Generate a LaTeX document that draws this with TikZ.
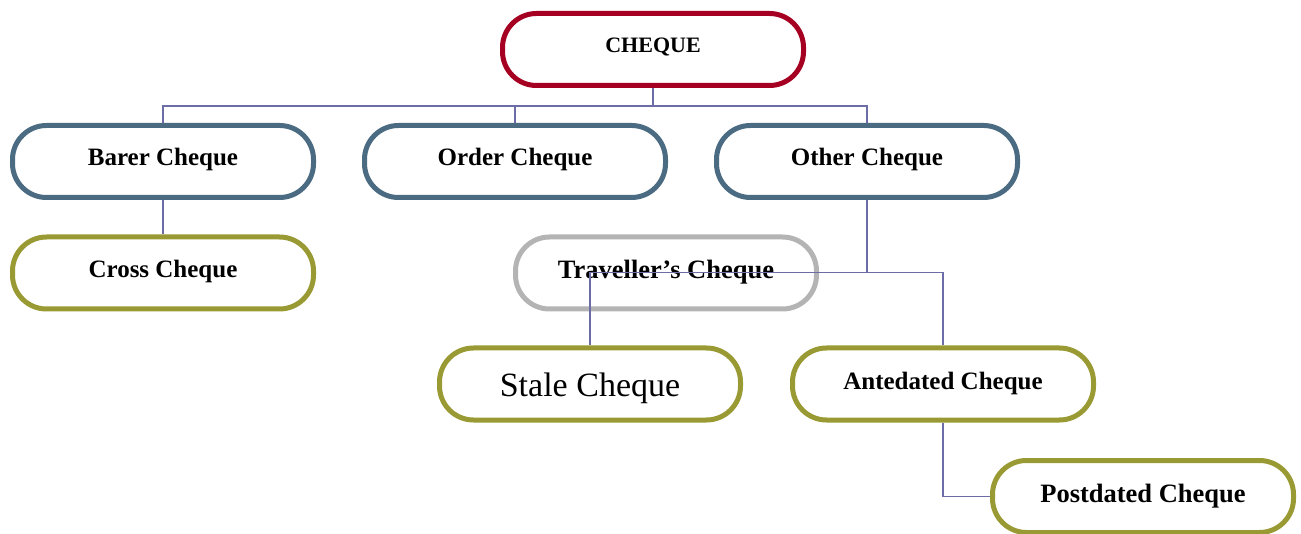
\documentclass[tikz,border=0pt]{standalone}
\usepackage{fontspec}
\setmainfont{Liberation Serif}
\definecolor{crim}{RGB}{165,0,33}
\definecolor{slate}{RGB}{74,107,130}
\definecolor{olive}{RGB}{154,154,52}
\definecolor{greybd}{RGB}{180,180,180}
\definecolor{conn}{RGB}{108,108,166}
\tikzset{
  pill/.style={draw, line width=5pt, fill=white, rectangle, rounded corners=34pt,
    minimum width=301pt, minimum height=72pt, inner sep=0pt,
    font=\fontsize{25pt}{27pt}\selectfont\bfseries, text height=17pt, text depth=8pt},
  bigtext/.style={font=\fontsize{26.5pt}{28pt}\selectfont\bfseries},
  topbox/.style={pill, draw=crim, font=\fontsize{22pt}{24pt}\selectfont\bfseries, text height=15pt, text depth=8pt},
  midbox/.style={pill, draw=slate},
  lowbox/.style={pill, draw=olive},
  greybox/.style={pill, draw=greybd},
  link/.style={draw=conn, line width=1.6pt}
}
\begin{document}
\begin{tikzpicture}[x=1pt,y=-1pt]
\useasboundingbox (0,0) rectangle (1301,534);
\node[topbox] (cheque) at (653,49.5) {CHEQUE};
\node[midbox] (barer) at (163,161.5) {Barer Cheque};
\node[midbox] (order) at (515,161.5) {Order Cheque};
\node[midbox] (other) at (867,161.5) {Other Cheque};
\node[lowbox] (cross) at (163,273) {Cross Cheque};
\node[greybox, bigtext, text depth=5pt] (trav) at (666,273) {Traveller’s Cheque};
\node[lowbox, font=\fontsize{34pt}{36pt}\selectfont, text height=26pt, text depth=1pt] (stale) at (590,384) {Stale Cheque};
\node[lowbox, text height=18pt, text depth=7pt] (ante) at (943,384) {Antedated Cheque};
\node[lowbox, bigtext, text depth=6pt] (post) at (1143,496.5) {Postdated Cheque};
\coordinate (j1) at (653,106);
\coordinate (j2) at (867,272.5);
\path[link] (cheque.south) -- (j1);
\path[link] (barer.north) |- (j1) -| (other.north);
\path[link] (order.north) -- (order.north |- j1);
\path[link] (barer.south) -- (cross.north);
\path[link] (other.south) -- (j2);
\path[link] (stale.north) |- (j2) -| (ante.north);
\path[link] (ante.south) |- (post.west);
\end{tikzpicture}
\end{document}
